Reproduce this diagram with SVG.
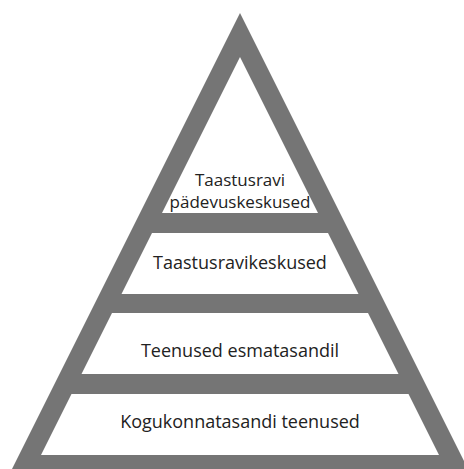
<svg xmlns="http://www.w3.org/2000/svg" width="464" height="469" viewBox="0 0 464 469">
<style>
.tier{fill:#ffffff}
.lbl{font-family:"Open Sans","Liberation Sans",sans-serif;font-size:18px;fill:#222222;text-anchor:middle}
.sm{font-size:17px}
</style>
<rect width="464" height="469" fill="#ffffff"/>
<g id="pyramid-frame">
<polygon points="240,13 468,469 12,469" fill="#757575"/>
</g>
<g id="tier1">
<polygon class="tier" points="240,57 318,213 162,213"/>
<text class="lbl sm" x="240" y="186">Taastusravi</text>
<text class="lbl sm" x="240" y="208">pädevuskeskused</text>
</g>
<g id="tier2">
<polygon class="tier" points="152,233 328,233 358.5,294 121.5,294"/>
<text class="lbl" x="240" y="269">Taastusravikeskused</text>
</g>
<g id="tier3">
<polygon class="tier" points="112,313 368,313 398.5,374 81.5,374"/>
<text class="lbl" x="240" y="357">Teenused esmatasandil</text>
</g>
<g id="tier4">
<polygon class="tier" points="71.5,394 408.5,394 439,455 41,455"/>
<text class="lbl" x="240" y="428">Kogukonnatasandi teenused</text>
</g>
<g id="connectors"></g>
</svg>
